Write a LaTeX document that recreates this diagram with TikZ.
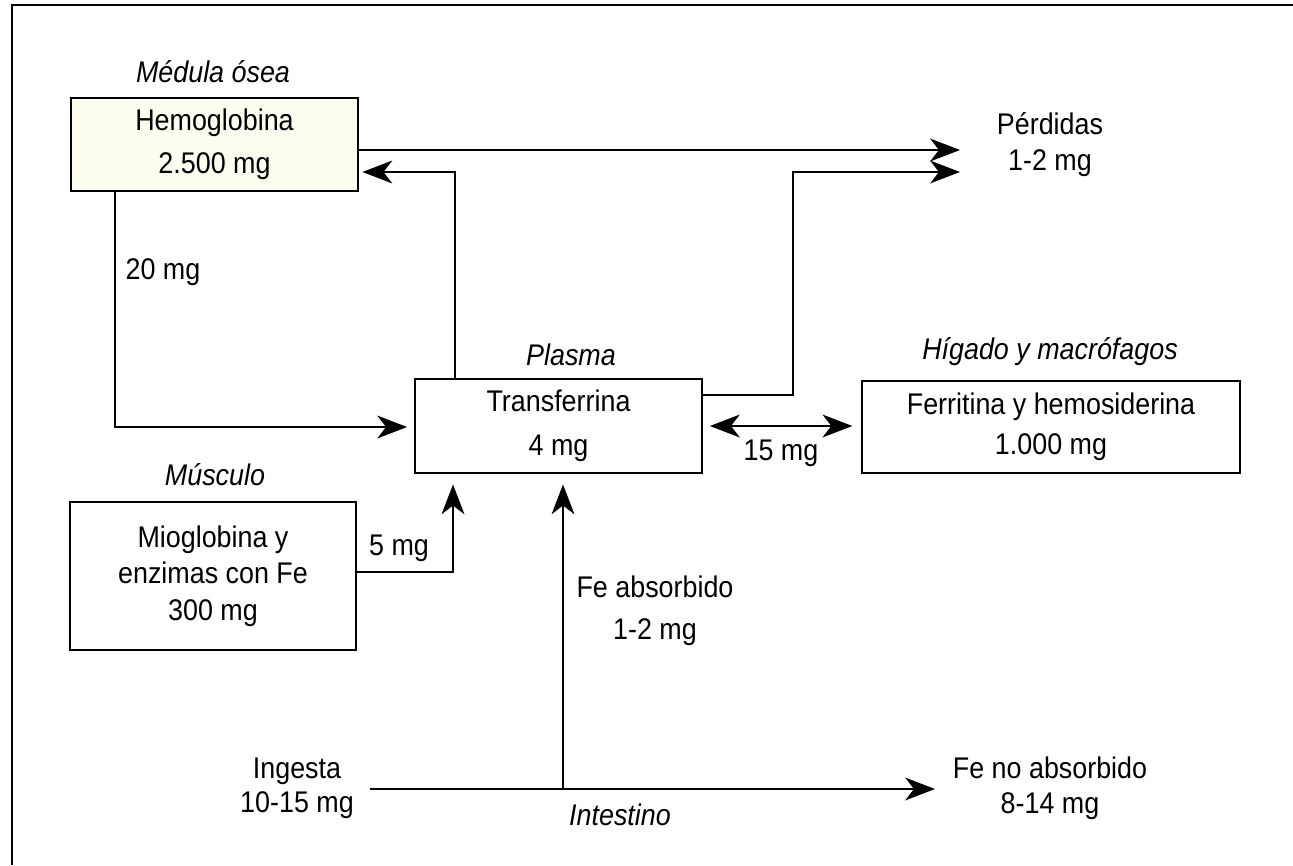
\documentclass[tikz,border=0pt]{standalone}
\usepackage{fontspec}
\setmainfont{Liberation Sans}[FakeStretch=0.9]
\usetikzlibrary{arrows.meta}
\definecolor{hemofill}{HTML}{FDFDEF}
\tikzset{
  txt/.style={font=\fontsize{17}{21}\selectfont, align=center, inner sep=0pt},
  ital/.style={font=\fontsize{17}{21}\selectfont\itshape, align=center, inner sep=0pt},
  box/.style={draw, line width=1pt, align=center, inner sep=0pt},
  arr/.style={line width=1pt, -{Stealth[length=17pt,width=13pt,inset=5pt]}},
  darr/.style={line width=1pt, {Stealth[length=17pt,width=13pt,inset=5pt]}-{Stealth[length=17pt,width=13pt,inset=5pt]}},
}
\begin{document}
\begin{tikzpicture}[x=0.02cm,y=-0.02cm]
\useasboundingbox (0,0) rectangle (1293,865);
% frame
\draw[line width=1.4pt] (12,865) -- (12,5) -- (1293,5);

% boxes
\node[box, fill=hemofill, minimum width=5.74cm, minimum height=1.86cm,
      font=\fontsize{17}{24.4}\selectfont] (hemo) at (214.5,144.5) {Hemoglobina\\2.500 mg};
\node[box, minimum width=5.74cm, minimum height=1.88cm,
      font=\fontsize{17}{25}\selectfont] (transf) at (558.5,426) {Transferrina\\4 mg};
\node[box, minimum width=7.56cm, minimum height=1.84cm,
      font=\fontsize{17}{22.7}\selectfont] (ferr) at (1051,427) {Ferritina y hemosiderina\\1.000 mg};
\node[box, minimum width=5.72cm, minimum height=2.96cm,
      font=\fontsize{17}{20.7}\selectfont] (musc) at (213,576) {Mioglobina y\\enzimas con Fe\\300 mg};

% italic labels
\node[ital] (medula) at (213,72) {Médula ósea};
\node[ital] (plasma) at (571,355) {Plasma};
\node[ital] (higado) at (1050,352) {Hígado y macrófagos};
\node[ital] (musculo) at (215,475) {Músculo};
\node[ital] (intestino) at (620,815) {Intestino};

% plain labels
\node[txt, font=\fontsize{17}{20.4}\selectfont] (perd) at (1050,145) {Pérdidas\\1-2 mg};
\node[txt] (mg20) at (163,272) {20 mg};
\node[txt] (mg15) at (781,453) {15 mg};
\node[txt] (mg5) at (399,548) {5 mg};
\node[txt, font=\fontsize{17}{23.8}\selectfont] (feabs) at (655,611) {Fe absorbido\\1-2 mg};
\node[txt, font=\fontsize{17}{19.3}\selectfont] (ingesta) at (297,788) {Ingesta\\10-15 mg};
\node[txt, font=\fontsize{17}{19.8}\selectfont] (noabs) at (1050,788) {Fe no absorbido\\8-14 mg};

% helper coordinates
\coordinate (pA) at (960,150);
\coordinate (pB) at (960,172);
\coordinate (c1) at (455,172);
\coordinate (c2) at (793,172);
\coordinate (c2b) at (793,395);
\coordinate (c3) at (115,427);
\coordinate (c4) at (453,572);
\coordinate (inA) at (370,789);
\coordinate (inB) at (935,789);
\coordinate (inJ) at (563,789);

% connectors
\draw[arr] (hemo.east |- pA) -- (pA);
\draw[arr, shorten >=2pt] (transf.north -| c1) -- (c1) -- (hemo.east |- c1);
\draw[arr] (transf.east |- c2b) -- (c2b) -- (c2) -- (pB);
\draw[darr, shorten <=4pt, shorten >=5pt] (transf.east) -- (ferr.west |- transf.east);
\draw[arr, shorten >=4pt] (c3 |- hemo.south) -- (c3) -- (transf.west |- c3);
\draw[arr, shorten >=6pt] (musc.east |- c4) -- (c4) -- (c4 |- transf.south);
\draw[arr] (inA) -- (inB);
\draw[arr, shorten >=6pt] (inJ) -- (inJ |- transf.south);
\end{tikzpicture}
\end{document}
